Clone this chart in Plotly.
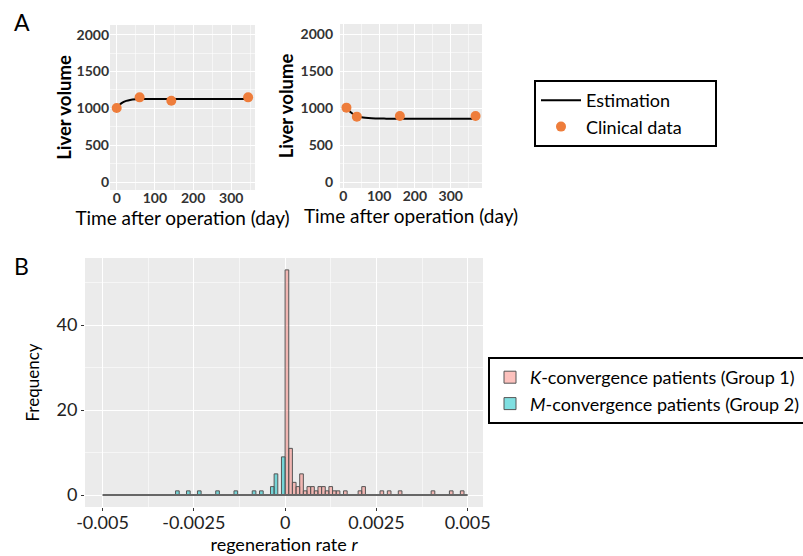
import plotly.graph_objects as go

W, H = 803, 556

# ---------------- Panel A data ----------------
a1_clin_day = [0, 60, 143, 344]
a1_clin_vol = [1005, 1150, 1105, 1150]
a1_est_day = [0, 8, 16, 25, 35, 50, 70, 100, 200, 344]
a1_est_vol = [1000, 1050, 1082, 1102, 1115, 1123, 1126, 1127, 1127, 1127]

a2_clin_day = [9, 38, 158, 369]
a2_clin_vol = [1008, 886, 895, 895]
a2_est_day = [9, 20, 30, 40, 55, 70, 90, 120, 200, 369]
a2_est_vol = [1000, 950, 915, 893, 875, 866, 861, 859, 858, 858]

a_xticks = [0, 100, 200, 300]
a_yticks = [0, 500, 1000, 1500, 2000]

# ---------------- Panel B data ----------------
bin_start = -0.005
bin_width = 0.0001
n_bins = 100
# bin index k means the bin [k*width, (k+1)*width]
g1_bins = [0, 1, 2, 3, 4, 5, 6, 7, 8, 9, 10, 11, 12, 13, 14, 16, 20, 21, 26, 28, 31, 40, 45, 48]
g1_counts = [53, 11, 3, 2, 5, 1, 2, 2, 1, 2, 2, 1, 2, 1, 1, 1, 1, 2, 1, 1, 1, 1, 1, 1]
g2_bins = [-30, -27, -24, -19, -14, -9, -7, -4, -3, -1]
g2_counts = [1, 1, 1, 1, 1, 1, 1, 2, 5, 9]

b_xticks = [-0.005, -0.0025, 0, 0.0025, 0.005]
b_xticklabels = ["-0.005", "-0.0025", "0", "0.0025", "0.005"]
b_yticks = [0, 20, 40]

FONT = "Lato"
ORANGE = "#EE7D3B"
PINK = "rgba(248,118,109,0.45)"
CYAN = "rgba(0,191,196,0.5)"
NBSP = "\u00a0"


def px_x(p):
    return p / W


def px_y(p):
    return 1 - p / H


fig = go.Figure()

# Panel A left
fig.add_trace(go.Scatter(x=a1_est_day, y=a1_est_vol, mode="lines", line=dict(color="black", width=2, shape="spline"),
                         name="Estimation", xaxis="x", yaxis="y", legend="legend"))
fig.add_trace(go.Scatter(x=a1_clin_day, y=a1_clin_vol, mode="markers", marker=dict(color=ORANGE, size=10),
                         name="Clinical data" + NBSP * 6, xaxis="x", yaxis="y", legend="legend"))
# Panel A right
fig.add_trace(go.Scatter(x=a2_est_day, y=a2_est_vol, mode="lines", line=dict(color="black", width=2, shape="spline"),
                         name="Estimation", xaxis="x2", yaxis="y2", showlegend=False))
fig.add_trace(go.Scatter(x=a2_clin_day, y=a2_clin_vol, mode="markers", marker=dict(color=ORANGE, size=10),
                         name="Clinical data", xaxis="x2", yaxis="y2", showlegend=False))

# Panel B baseline (empty bins)
edges_lo = bin_start
edges_hi = bin_start + n_bins * bin_width
fig.add_trace(go.Scatter(x=[edges_lo, edges_hi], y=[0, 0], mode="lines", line=dict(color="#666666", width=2),
                         showlegend=False, xaxis="x3", yaxis="y3", hoverinfo="skip"))

g1_x = [(k + 0.5) * bin_width for k in g1_bins]
g2_x = [(k + 0.5) * bin_width for k in g2_bins]
fig.add_trace(go.Bar(x=g1_x, y=g1_counts, width=bin_width, marker=dict(color=PINK, line=dict(color="#555555", width=1)),
                     name="<i>K</i>-convergence patients (Group 1)", xaxis="x3", yaxis="y3", legend="legend2"))
fig.add_trace(go.Bar(x=g2_x, y=g2_counts, width=bin_width, marker=dict(color=CYAN, line=dict(color="#555555", width=1)),
                     name="<i>M</i>-convergence patients (Group 2)", xaxis="x3", yaxis="y3", legend="legend2"))

tickfont_a = dict(family=FONT, size=14, color="#333333", weight="bold")
base = dict(showgrid=True, gridcolor="white", gridwidth=1.2, zeroline=False, showline=False, automargin=False)
tick_b = dict(ticks="outside", ticklen=3, tickcolor="#333333")
minor_grid = dict(showgrid=True, gridcolor="rgba(255,255,255,0.55)", gridwidth=0.6)
title_x_a = dict(text="Time after operation (day)", font=dict(family=FONT, size=19, color="black"), standoff=0)


def title_y_a(standoff):
    return dict(text="Liver volume", font=dict(family=FONT, size=18.5, color="black", weight="bold"), standoff=standoff)


fig.update_layout(
    width=W, height=H,
    margin=dict(l=0, r=0, t=0, b=0, autoexpand=False),
    paper_bgcolor="white",
    plot_bgcolor="#EBEBEB",
    barmode="overlay",
    font=dict(family=FONT, color="black"),
    xaxis=dict(domain=[px_x(110), px_x(255)], range=[-17.5, 362], tickvals=a_xticks, tickfont=tickfont_a,
               minor=dict(dtick=50, **minor_grid), anchor="y", ticks="", ticklabelstandoff=-2,
               title=title_x_a, **base),
    yaxis=dict(domain=[px_y(190), px_y(25)], range=[-105, 2130], tickvals=a_yticks, tickfont=tickfont_a,
               minor=dict(dtick=250, **minor_grid), anchor="x", ticks="", ticklabelstandoff=0,
               title=title_y_a(0), **base),
    xaxis2=dict(domain=[px_x(340), px_x(482)], range=[-9, 387], tickvals=a_xticks, tickfont=tickfont_a,
                minor=dict(dtick=50, **minor_grid), anchor="y2", ticks="", ticklabelstandoff=-2,
                title=title_x_a, **base),
    yaxis2=dict(domain=[px_y(188), px_y(24)], range=[-80, 2140], tickvals=a_yticks, tickfont=tickfont_a,
                minor=dict(dtick=250, **minor_grid), anchor="x2", ticks="", ticklabelstandoff=6,
                title=title_y_a(2), **base),
    xaxis3=dict(domain=[px_x(85), px_x(483)], range=[-0.00548, 0.00542], tickvals=b_xticks, ticktext=b_xticklabels,
                tickfont=dict(family=FONT, size=18, color="#222222"), ticklabelstandoff=-4,
                minor=dict(dtick=0.00125, tick0=0, **minor_grid), anchor="y3",
                title=dict(text="regeneration rate <i>r</i>", font=dict(family=FONT, size=18, color="black"), standoff=2),
                **tick_b, **base),
    yaxis3=dict(domain=[px_y(507), px_y(258)], range=[-2.8, 55.8], tickvals=b_yticks,
                tickfont=dict(family=FONT, size=18, color="#222222"),
                minor=dict(dtick=10, **minor_grid), anchor="x3",
                title=dict(text="Frequency", font=dict(family=FONT, size=17, color="black"), standoff=12),
                **tick_b, **base),
    legend=dict(x=px_x(534), y=px_y(80), xanchor="left", yanchor="top", bgcolor="white",
                bordercolor="black", borderwidth=2, font=dict(family=FONT, size=18, color="black"),
                tracegroupgap=0, itemwidth=40),
    legend2=dict(x=px_x(488), y=px_y(357), xanchor="left", yanchor="top", bgcolor="white",
                 bordercolor="black", borderwidth=2, font=dict(family=FONT, size=18, color="black"),
                 tracegroupgap=0, itemwidth=30),
    annotations=[
        dict(text="A", x=px_x(12), y=px_y(6), xref="paper", yref="paper", xanchor="left", yanchor="top",
             showarrow=False, font=dict(family=FONT, size=23, color="black")),
        dict(text="B", x=px_x(12), y=px_y(250), xref="paper", yref="paper", xanchor="left", yanchor="top",
             showarrow=False, font=dict(family=FONT, size=23, color="black")),
    ],
)

fig.write_html("out.html", config={"displayModeBar": False},
               post_script="document.body.style.margin='0px';document.body.style.overflow='hidden';")
